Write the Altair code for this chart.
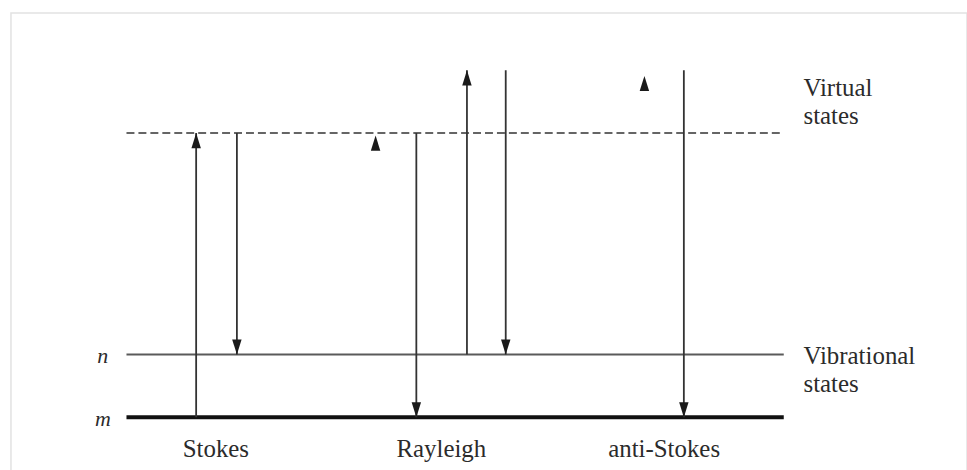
import altair as alt
import pandas as pd

# Energies in units of the vibrational spacing (m -> n), photon energy h*nu0
E_M = 0.0
E_N = 1.0
H_NU0 = 4.53

# Horizontal energy levels
level_key = ["m", "n", "virtual"]
level_energy = [E_M, E_N, E_M + H_NU0]

# Transition arrows: position along the diagram, start and end energy
arrow_x = [10.6, 16.8, 44.1, 51.8, 57.7, 84.8]
arrow_from = [E_M, E_M + H_NU0, E_M + H_NU0, E_N, E_N + H_NU0, E_N + H_NU0]
arrow_to = [E_M + H_NU0, E_N, E_M, E_N + H_NU0, E_N, E_M]

# Arrowheads drawn without a shaft
lone_head_x = [37.9, 78.8]
lone_head_at = [4.49, 5.44]

# Process names under the diagram
process_names = ["Stokes", "Rayleigh", "anti-Stokes"]
process_x = [13.6, 47.9, 81.8]

# Level descriptions on the right
side_labels = ["Virtual\nstates", "Vibrational\nstates"]
side_energy = [E_M + H_NU0, E_N]

levels = pd.DataFrame({"key": level_key, "E": level_energy, "x0": 0, "x1": 100})
arrows = pd.DataFrame({"x": arrow_x, "E0": arrow_from, "E1": arrow_to})
arrows["dir"] = ["up" if b > a else "down" for a, b in zip(arrow_from, arrow_to)]
heads = pd.concat([
    pd.DataFrame({"x": arrow_x, "E": arrow_to, "dir": arrows["dir"]}),
    pd.DataFrame({"x": lone_head_x, "E": lone_head_at, "dir": "up"}),
], ignore_index=True)
processes = pd.DataFrame({"name": process_names, "x": process_x, "E": E_M})
left_labels = pd.DataFrame({"name": ["n", "m"], "x": -3.6, "E": [E_N, E_M]})
right_labels = pd.DataFrame({"name": side_labels, "x": 103.0, "E": side_energy})

X = alt.Scale(domain=[0, 100], range=[116, 776])
Y = alt.Scale(domain=[0, 1], range=[406, 343])
FONT = "Times New Roman, Liberation Serif, DejaVu Serif, serif"
INK = "#2b2b2b"


def xq(f):
    return alt.X(f, type="quantitative", scale=X, axis=None)


def yq(f):
    return alt.Y(f, type="quantitative", scale=Y, axis=None)


def level_layer(key, **style):
    return alt.Chart(levels).transform_filter(alt.datum.key == key).mark_rule(**style).encode(
        x=xq("x0"), x2="x1", y=yq("E")
    )


ground = level_layer("m", color="#111111", strokeWidth=4)
vib = level_layer("n", color="#5a5a5a", strokeWidth=2)
virtual = level_layer("virtual", color="#333333", strokeWidth=1.6, strokeDash=[8, 4])

shafts = alt.Chart(arrows).mark_rule(color="#333333", strokeWidth=1.8).encode(
    x=xq("x"), y=yq("E0"), y2="E1"
)

arrowheads = alt.Chart(heads).mark_point(filled=True, opacity=1, color="#1a1a1a", size=90).encode(
    x=xq("x"),
    y=yq("E"),
    shape=alt.Shape(
        "dir:N",
        scale=alt.Scale(domain=["up", "down"],
                        range=["M0,0L1,3.2L-1,3.2Z", "M0,0L1,-3.2L-1,-3.2Z"]),
        legend=None,
    ),
)

process_text = alt.Chart(processes).mark_text(
    font=FONT, fontSize=25, color=INK, align="center", baseline="alphabetic", dy=40
).encode(x=xq("x"), y=yq("E"), text="name:N")

left_text = alt.Chart(left_labels).mark_text(
    font=FONT, fontSize=22, fontStyle="italic", color=INK, align="center",
    baseline="alphabetic", dy=9
).encode(x=xq("x"), y=yq("E"), text="name:N")

right_virtual = alt.Chart(right_labels.iloc[[0]]).mark_text(
    font=FONT, fontSize=25, color=INK, align="left", baseline="alphabetic",
    lineBreak="\n", lineHeight=28, dy=-37
).encode(x=xq("x"), y=yq("E"), text="name:N")

right_vib = alt.Chart(right_labels.iloc[[1]]).mark_text(
    font=FONT, fontSize=25, color=INK, align="left", baseline="alphabetic",
    lineBreak="\n", lineHeight=28, dy=10
).encode(x=xq("x"), y=yq("E"), text="name:N")

chart = alt.layer(
    virtual, vib, ground, shafts, arrowheads,
    process_text, left_text, right_virtual, right_vib
).properties(
    width=960,
    height=460,
    autosize=alt.AutoSizeParams(type="none"),
    padding={"left": 11, "top": 12, "right": 0, "bottom": 0},
    background="white",
).configure_view(stroke="#e2e2e2", strokeWidth=1.5)

chart.save("out.html", embed_options={"renderer": "svg", "actions": False})
